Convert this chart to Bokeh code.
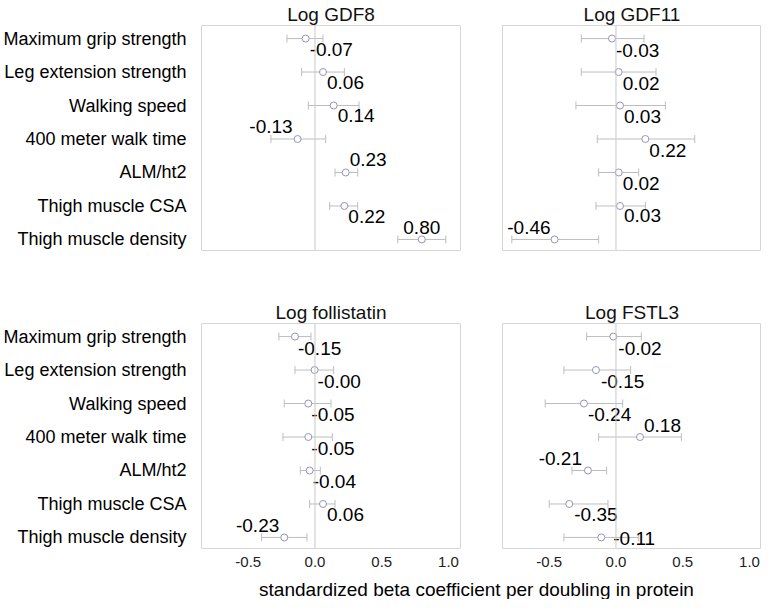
from bokeh.plotting import figure
from bokeh.models import (ColumnDataSource, Range1d, FixedTicker, NumeralTickFormatter,
                          Span, Whisker, TeeHead)
from bokeh.layouts import column, row
from bokeh.embed import file_html
from bokeh.resources import INLINE
from bokeh.core.properties import value

# ---------------- data ----------------
categories = ["Maximum grip strength", "Leg extension strength", "Walking speed",
              "400 meter walk time", "ALM/ht2", "Thigh muscle CSA", "Thigh muscle density"]

panel_titles = ["Log GDF8", "Log GDF11", "Log follistatin", "Log FSTL3"]

gdf8_est = [-0.07, 0.06, 0.14, -0.13, 0.23, 0.22, 0.80]
gdf8_lo = [-0.21, -0.10, -0.05, -0.33, 0.15, 0.11, 0.62]
gdf8_hi = [0.06, 0.22, 0.33, 0.08, 0.32, 0.32, 0.98]

gdf11_est = [-0.03, 0.02, 0.03, 0.22, 0.02, 0.03, -0.46]
gdf11_lo = [-0.26, -0.26, -0.30, -0.14, -0.13, -0.15, -0.78]
gdf11_hi = [0.21, 0.30, 0.37, 0.59, 0.17, 0.22, -0.13]

fst_est = [-0.15, -0.003, -0.05, -0.05, -0.04, 0.06, -0.23]
fst_lo = [-0.27, -0.15, -0.23, -0.24, -0.11, -0.04, -0.40]
fst_hi = [-0.03, 0.14, 0.12, 0.13, 0.04, 0.15, -0.06]

fstl3_est = [-0.02, -0.15, -0.24, 0.18, -0.21, -0.35, -0.11]
fstl3_lo = [-0.22, -0.39, -0.53, -0.13, -0.33, -0.50, -0.39]
fstl3_hi = [0.19, 0.11, 0.05, 0.49, -0.07, -0.06, 0.17]

x_ticks = [-0.5, 0.0, 0.5, 1.0]
x_label = "standardized beta coefficient per doubling in protein"

# value-label placement: pixel offsets of the text centre-line and alignment (style only)
place_gdf8 = [(4, 11, "left"), (4, 10, "left"), (4, 10, "left"), (-5, -13, "right"),
              (4, -13, "left"), (4, 11, "left"), (0, -12, "center")]
place_gdf11 = [(4, 12, "left"), (4, 11, "left"), (4, 11, "left"), (4, 11, "left"),
               (4, 11, "left"), (4, 10, "left"), (-4, -12, "right")]
place_fst = [(3, 12, "left"), (3, 11, "left"), (3, 11, "left"), (3, 11, "left"),
             (3, 11, "left"), (4, 11, "left"), (-5, -12, "right")]
place_fstl3 = [(5, 12, "left"), (5, 11, "left"), (4, 11, "left"), (4, -12, "left"),
               (-6, -12, "right"), (5, 11, "left"), (12, 1, "left")]

FONT = "Liberation Sans"
FRAME_W = 259
FRAME_H = 225
BOX_COLOR = "#d6d6d6"
ZERO_COLOR = "#c8c8c8"
BAR_COLOR = "#bdbdbd"
PT_COLOR = "#9494b8"


def make_panel(title, est, lo, hi, place, left, bottom, top_border, bottom_border):
    p = figure(frame_width=FRAME_W, frame_height=FRAME_H,
               output_backend="svg", toolbar_location=None,
               x_range=Range1d(-0.85, 1.09), y_range=Range1d(7.33, 0.61),
               min_border_left=195 if left else 22, min_border_right=20 if left else 0,
               min_border_top=top_border, min_border_bottom=bottom_border)
    p.title.text = title
    p.title.align = "center"
    p.title.text_font = FONT
    p.title.text_font_size = "19px"
    p.title.text_font_style = "normal"
    p.title.text_color = "#111111"
    p.title.standoff = 2
    p.xgrid.visible = False
    p.ygrid.visible = False
    p.outline_line_color = BOX_COLOR
    p.outline_line_width = 1
    p.background_fill_color = "white"
    p.border_fill_color = "white"

    ys = list(range(1, len(categories) + 1))
    src = ColumnDataSource(dict(
        y=ys, est=est, lo=lo, hi=hi,
        lab=[f"{v:.2f}" for v in est],
        dx=[d[0] for d in place], dy=[d[1] for d in place], al=[d[2] for d in place]))

    p.add_layout(Span(location=0, dimension="height", line_color=ZERO_COLOR, line_width=1))
    w = Whisker(base="y", lower="lo", upper="hi", dimension="width", source=src,
                line_color=BAR_COLOR, line_width=1,
                lower_head=TeeHead(size=8, line_color=BAR_COLOR, line_width=1),
                upper_head=TeeHead(size=8, line_color=BAR_COLOR, line_width=1))
    p.add_layout(w)
    p.scatter(x="est", y="y", source=src, marker="circle", size=7,
              fill_color="white", line_color=PT_COLOR, line_width=1)
    p.text(x="est", y="y", text="lab", source=src, x_offset="dx", y_offset="dy",
           text_align="al", text_baseline="middle", text_font=value(FONT),
           text_font_size="19px", text_color="black")

    if left:
        p.yaxis.ticker = FixedTicker(ticks=ys)
        p.yaxis.major_label_overrides = {y: c for y, c in zip(ys, categories)}
        p.yaxis.axis_line_color = None
        p.yaxis.major_tick_line_color = None
        p.yaxis.minor_tick_line_color = None
        p.yaxis.major_label_text_font = FONT
        p.yaxis.major_label_text_font_size = "18px"
        p.yaxis.major_label_text_color = "black"
        p.yaxis.major_label_standoff = 9
    else:
        p.yaxis.visible = False

    if bottom:
        p.xaxis.ticker = FixedTicker(ticks=x_ticks)
        p.xaxis.formatter = NumeralTickFormatter(format="0.0")
        p.xaxis.axis_line_color = None
        p.xaxis.major_tick_line_color = None
        p.xaxis.minor_tick_line_color = None
        p.xaxis.major_label_text_font = FONT
        p.xaxis.major_label_text_font_size = "15px"
        p.xaxis.major_label_text_color = "#222222"
        p.xaxis.major_label_standoff = 2
    else:
        p.xaxis.visible = False
    return p


p1 = make_panel(panel_titles[0], gdf8_est, gdf8_lo, gdf8_hi, place_gdf8, True, False, 17, 8)
p2 = make_panel(panel_titles[1], gdf11_est, gdf11_lo, gdf11_hi, place_gdf11, False, False, 17, 8)
p3 = make_panel(panel_titles[2], fst_est, fst_lo, fst_hi, place_fst, True, True, 65, 22)
p4 = make_panel(panel_titles[3], fstl3_est, fstl3_lo, fstl3_hi, place_fstl3, False, True, 65, 22)

# shared x-axis label
lab_w = (195 + FRAME_W + 20) + (22 + FRAME_W)
lab_h = 29
pl = figure(width=lab_w, height=lab_h, output_backend="svg", toolbar_location=None,
            x_range=Range1d(0, lab_w), y_range=Range1d(0, lab_h),
            min_border_left=0, min_border_right=0, min_border_top=0, min_border_bottom=0)
pl.axis.visible = False
pl.grid.visible = False
pl.outline_line_color = None
pl.text(x=[476], y=[10], text=[x_label], text_align="center", text_baseline="middle",
        text_font=value(FONT), text_font_size="19px", text_color="black")

layout = column(row(p1, p2), row(p3, p4), pl)

open("out.html", "w").write(file_html(layout, INLINE))
